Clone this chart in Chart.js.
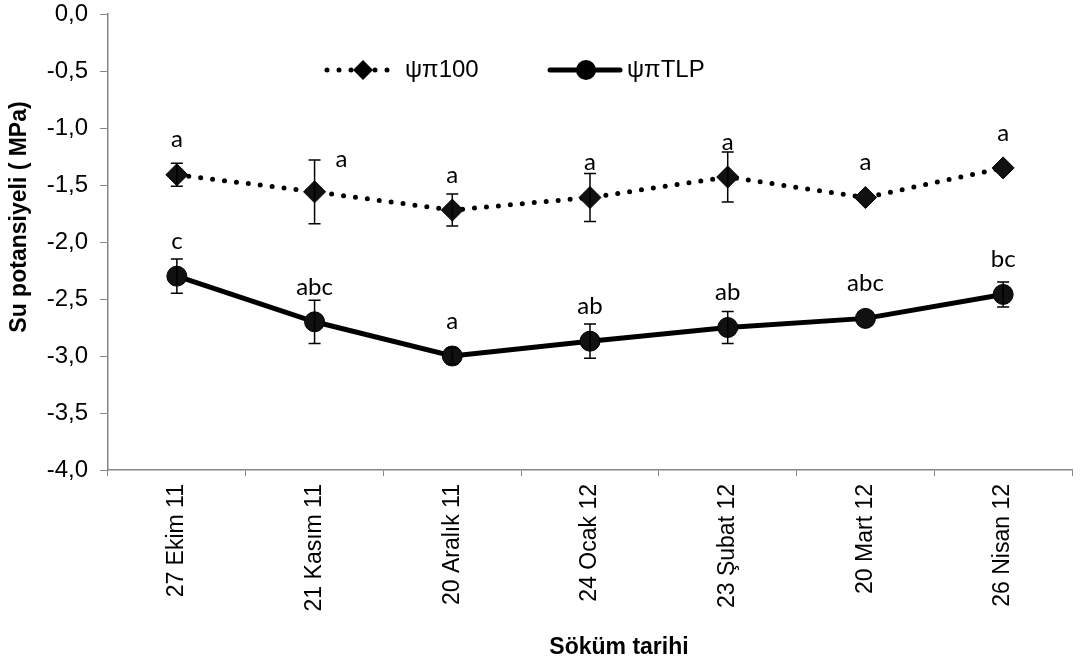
<!DOCTYPE html>
<html>
<head>
<meta charset="utf-8">
<script src="https://cdn.jsdelivr.net/npm/chart.js@4.4.0/dist/chart.umd.min.js"></script>
<style>
  html, body { margin: 0; padding: 0; background: #fff; }
  #wrap { width: 1084px; height: 666px; }
</style>
</head>
<body>
<div id="wrap"><canvas id="chart"></canvas></div>
<script>
const dates = ['27 Ekim 11', '21 Kasım 11', '20 Aralık 11', '24 Ocak 12', '23 Şubat 12', '20 Mart 12', '26 Nisan 12'];

const psi100 = [-1.41, -1.56, -1.72, -1.61, -1.43, -1.61, -1.35];
const psi100Err = [0.10, 0.28, 0.14, 0.21, 0.22, 0, 0];
const psi100Letters = ['a', 'a', 'a', 'a', 'a', 'a', 'a'];

const psiTLP = [-2.30, -2.70, -3.00, -2.87, -2.75, -2.67, -2.46];
const psiTLPErr = [0.15, 0.19, 0.07, 0.15, 0.14, 0, 0.11];
const psiTLPLetters = ['c', 'abc', 'a', 'ab', 'ab', 'abc', 'bc'];

const yMin = -4, yMax = 0, yStep = 0.5;

const axisGray = '#868686';
const arial = '"Liberation Sans", Arial, sans-serif';

// error bars + significance letters
const errorLetters = {
  id: 'errorLetters',
  afterDatasetsDraw(chart) {
    const ctx = chart.ctx;
    const y = chart.scales.y;
    ctx.save();
    chart.data.datasets.forEach((ds, di) => {
      const meta = chart.getDatasetMeta(di);
      meta.data.forEach((pt, i) => {
        const err = ds.errors[i];
        if (err > 0) {
          const top = y.getPixelForValue(ds.data[i] + err);
          const bot = y.getPixelForValue(ds.data[i] - err);
          ctx.strokeStyle = '#000';
          ctx.lineWidth = 1.5;
          ctx.beginPath();
          ctx.moveTo(pt.x, top); ctx.lineTo(pt.x, bot);
          ctx.moveTo(pt.x - 6, top); ctx.lineTo(pt.x + 6, top);
          ctx.moveTo(pt.x - 6, bot); ctx.lineTo(pt.x + 6, bot);
          ctx.stroke();
        }
        let lx = pt.x, ly = pt.y - 35;
        if (di === 0 && i === 1) { lx = pt.x + 27; ly = pt.y - 33; }
        ctx.fillStyle = '#000';
        ctx.font = '24px Lato, "Open Sans", sans-serif';
        ctx.textAlign = 'center';
        ctx.textBaseline = 'middle';
        ctx.fillText(ds.letters[i], lx, ly);
      });
    });
    ctx.restore();
  }
};

// legend inside the plot + axis titles placed like the original
const extras = {
  id: 'extras',
  afterDraw(chart) {
    const ctx = chart.ctx;
    const a = chart.chartArea;
    const ly = a.top + 56;
    ctx.save();
    ctx.fillStyle = '#000';
    ctx.strokeStyle = '#000';
    // dotted + diamond
    let x0 = a.left + 219;
    ctx.lineWidth = 5;
    ctx.lineCap = 'round';
    ctx.setLineDash([0, 12]);
    ctx.beginPath(); ctx.moveTo(x0, ly); ctx.lineTo(x0 + 66, ly); ctx.stroke();
    ctx.setLineDash([]);
    ctx.beginPath();
    ctx.moveTo(x0 + 36, ly - 10); ctx.lineTo(x0 + 46, ly); ctx.lineTo(x0 + 36, ly + 10); ctx.lineTo(x0 + 26, ly);
    ctx.closePath(); ctx.fill();
    ctx.font = '24px ' + arial;
    ctx.textAlign = 'left';
    ctx.textBaseline = 'middle';
    ctx.fillText('ψπ100', x0 + 78, ly);
    // solid + circle
    x0 = a.left + 442;
    ctx.lineWidth = 5;
    ctx.beginPath(); ctx.moveTo(x0, ly); ctx.lineTo(x0 + 70, ly); ctx.stroke();
    ctx.beginPath(); ctx.arc(x0 + 36, ly, 10, 0, Math.PI * 2); ctx.fill();
    ctx.fillText('ψπTLP', x0 + 77, ly);

    // axis titles
    ctx.font = 'bold 23px ' + arial;
    ctx.textAlign = 'center';
    ctx.fillText('Söküm tarihi', (a.left + a.right) / 2 + 29, 648);
    ctx.translate(20, (a.top + a.bottom) / 2 - 25);
    ctx.rotate(-Math.PI / 2);
    ctx.fillText('Su potansiyeli ( MPa)', 0, 0);
    ctx.restore();
  }
};

new Chart(document.getElementById('chart'), {
  type: 'line',
  data: {
    labels: dates,
    datasets: [
      {
        label: 'ψπ100',
        data: psi100,
        errors: psi100Err,
        letters: psi100Letters,
        borderColor: '#000',
        backgroundColor: '#111',
        borderWidth: 5,
        borderDash: [0, 12],
        borderCapStyle: 'round',
        pointStyle: 'rectRot',
        pointRadius: 11,
        pointBorderWidth: 1,
        pointBorderColor: '#000',
        tension: 0
      },
      {
        label: 'ψπTLP',
        data: psiTLP,
        errors: psiTLPErr,
        letters: psiTLPLetters,
        borderColor: '#000',
        backgroundColor: '#111',
        borderWidth: 5,
        pointStyle: 'circle',
        pointRadius: 10,
        pointBorderWidth: 1,
        pointBorderColor: '#000',
        tension: 0
      }
    ]
  },
  options: {
    responsive: true,
    maintainAspectRatio: false,
    animation: false,
    layout: { padding: { top: 14, right: 0, bottom: 0, left: 0 } },
    plugins: {
      legend: { display: false },
      tooltip: { enabled: false }
    },
    scales: {
      x: {
        offset: true,
        afterFit(scale) { scale.height = 196; },
        grid: { offset: true, drawOnChartArea: false, drawTicks: true, tickLength: 6, color: axisGray },
        border: { color: axisGray, width: 1.5 },
        ticks: {
          minRotation: 90, maxRotation: 90, padding: 8, color: '#000',
          font: { family: arial, size: 23 }
        }
      },
      y: {
        min: yMin, max: yMax,
        afterFit(scale) {
          scale.width = 108;
          scale.paddingTop = 0;
          scale.paddingBottom = 0;
        },
        grid: { drawOnChartArea: false, drawTicks: true, tickLength: 8, color: axisGray },
        border: { color: axisGray, width: 1.5 },
        ticks: {
          stepSize: yStep, padding: 12, color: '#000',
          font: { family: arial, size: 24 },
          callback: v => v.toFixed(1).replace('.', ',')
        }
      }
    }
  },
  plugins: [errorLetters, extras]
});
</script>
</body>
</html>
